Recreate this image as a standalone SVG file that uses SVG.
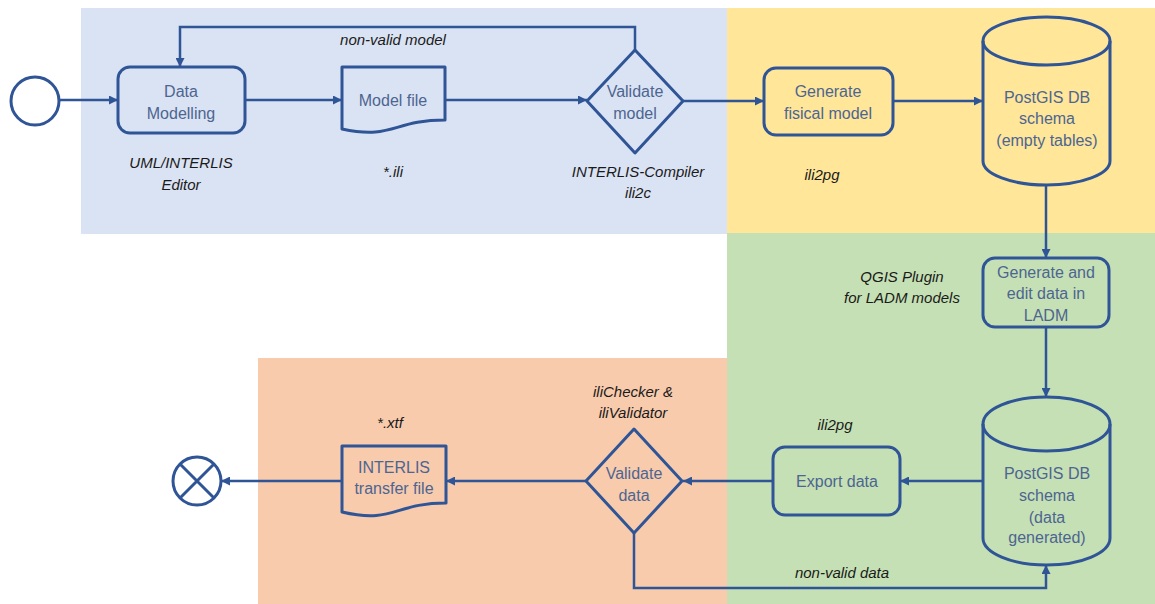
<svg xmlns="http://www.w3.org/2000/svg" width="1155" height="604" viewBox="0 0 1155 604">
<style>
.shape{fill:none;stroke:#2f5597;stroke-width:3;stroke-linejoin:round}
.conn{fill:none;stroke:#2f5597;stroke-width:2.5;stroke-linejoin:miter}
.t{font-family:"Liberation Sans",Arial,sans-serif;font-size:16px;fill:#4d6591;text-anchor:middle}
.l{font-family:"Liberation Sans",Arial,sans-serif;font-size:15px;font-style:italic;fill:#1a1a1a;text-anchor:middle}
</style>
<defs>
<marker id="ah" viewBox="0 0 10 10" refX="10" refY="5" markerWidth="3.6" markerHeight="3.6" orient="auto" markerUnits="strokeWidth">
<path d="M0,0 L10,5 L0,10 Z" fill="#2f5597"/>
</marker>
</defs>
<g id="backgrounds">
<rect x="81" y="8" width="646" height="226" fill="#dae3f3"/>
<rect x="727" y="8" width="428" height="225" fill="#ffe699"/>
<rect x="727" y="233" width="428" height="371" fill="#c5e0b4"/>
<rect x="258" y="358" width="469" height="246" fill="#f8cbad"/>
</g>
<g id="connectors">
<path class="conn" d="M60,100 H118" marker-end="url(#ah)"/>
<path class="conn" d="M245,100 H342" marker-end="url(#ah)"/>
<path class="conn" d="M445,100 H587" marker-end="url(#ah)"/>
<path class="conn" d="M635,50 V27 H180 V67" marker-end="url(#ah)"/>
<path class="conn" d="M683,101 H764" marker-end="url(#ah)"/>
<path class="conn" d="M893,101 H983" marker-end="url(#ah)"/>
<path class="conn" d="M1046,185 V258" marker-end="url(#ah)"/>
<path class="conn" d="M1046,327 V397" marker-end="url(#ah)"/>
<path class="conn" d="M983,481 H900" marker-end="url(#ah)"/>
<path class="conn" d="M773,481 H683" marker-end="url(#ah)"/>
<path class="conn" d="M586,481 H446" marker-end="url(#ah)"/>
<path class="conn" d="M342,481 H221" marker-end="url(#ah)"/>
<path class="conn" d="M634,533 V588 H1046 V565" marker-end="url(#ah)"/>
<text class="l" x="393" y="45">non-valid model</text>
<text class="l" x="842" y="578">non-valid data</text>
</g>
<g id="start">
<circle class="shape" cx="35" cy="101" r="24"/>
</g>
<g id="data-modelling">
<rect class="shape" x="118" y="67" width="127" height="66" rx="12"/>
<text class="t" x="181" y="97">Data</text>
<text class="t" x="181" y="119">Modelling</text>
<text class="l" x="181" y="168">UML/INTERLIS</text>
<text class="l" x="181" y="190">Editor</text>
</g>
<g id="model-file">
<path class="shape" d="M342,67 H445 V120 C393,120 393,140 342,129 Z"/>
<text class="t" x="393" y="106">Model file</text>
<text class="l" x="393" y="177">*.ili</text>
</g>
<g id="validate-model">
<path class="shape" d="M635,50 L683,101 L635,153 L587,101 Z"/>
<text class="t" x="635" y="97">Validate</text>
<text class="t" x="635" y="119">model</text>
<text class="l" x="638" y="177">INTERLIS-Compiler</text>
<text class="l" x="638" y="198">ili2c</text>
</g>
<g id="generate-fisical-model">
<rect class="shape" x="764" y="68" width="129" height="67" rx="12"/>
<text class="t" x="828" y="97">Generate</text>
<text class="t" x="828" y="119">fisical model</text>
<text class="l" x="822" y="180">ili2pg</text>
</g>
<g id="db-empty">
<path class="shape" d="M983,41 V161 A63.5,24 0 0 0 1110,161 V41"/>
<ellipse class="shape" cx="1046.5" cy="41" rx="63.5" ry="24"/>
<text class="t" x="1047" y="103">PostGIS DB</text>
<text class="t" x="1047" y="124">schema</text>
<text class="t" x="1047" y="146">(empty tables)</text>
</g>
<g id="generate-edit">
<rect class="shape" x="983" y="258" width="126" height="69" rx="12"/>
<text class="t" x="1046" y="278">Generate and</text>
<text class="t" x="1046" y="299">edit data in</text>
<text class="t" x="1046" y="321">LADM</text>
<text class="l" x="902" y="282">QGIS Plugin</text>
<text class="l" x="902" y="303">for LADM models</text>
</g>
<g id="db-data">
<path class="shape" d="M983,424 V538 A63.5,27 0 0 0 1110,538 V424"/>
<ellipse class="shape" cx="1046.5" cy="424" rx="63.5" ry="27"/>
<text class="t" x="1047" y="479">PostGIS DB</text>
<text class="t" x="1047" y="501">schema</text>
<text class="t" x="1047" y="523">(data</text>
<text class="t" x="1047" y="543">generated)</text>
</g>
<g id="export-data">
<rect class="shape" x="773" y="447" width="127" height="68" rx="12"/>
<text class="t" x="837" y="487">Export data</text>
<text class="l" x="835" y="430">ili2pg</text>
</g>
<g id="validate-data">
<path class="shape" d="M634,429 L682,481 L634,533 L586,481 Z"/>
<text class="t" x="634" y="479">Validate</text>
<text class="t" x="634" y="501">data</text>
<text class="l" x="633" y="397">iliChecker &amp;</text>
<text class="l" x="633" y="418">iliValidator</text>
</g>
<g id="transfer-file">
<path class="shape" d="M342,446 H446 V503 C394,503 394,524 342,512 Z"/>
<text class="t" x="394" y="473">INTERLIS</text>
<text class="t" x="394" y="494">transfer file</text>
<text class="l" x="390" y="428">*.xtf</text>
</g>
<g id="end">
<circle class="shape" cx="197" cy="481" r="24"/>
<path class="shape" d="M180,464 L214,498 M214,464 L180,498"/>
</g>
</svg>
